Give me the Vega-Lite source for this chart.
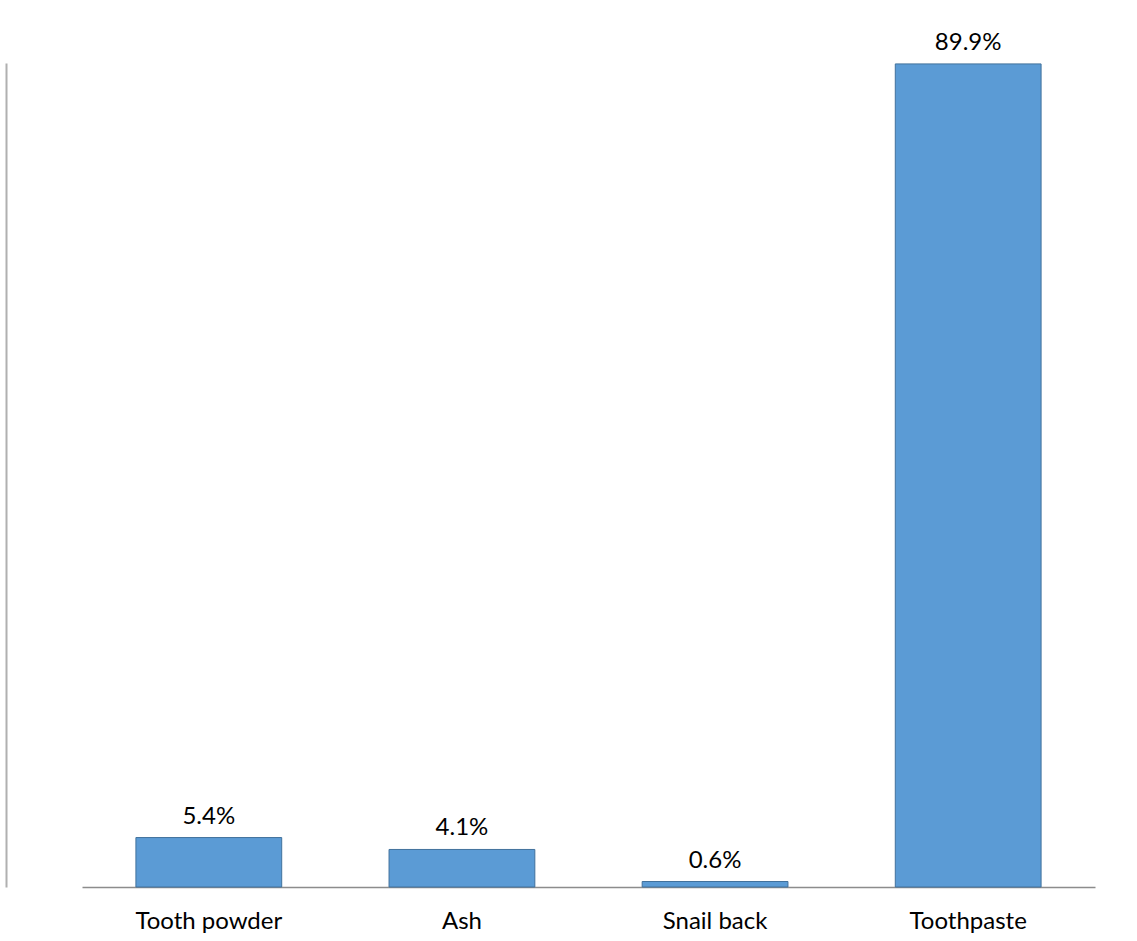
{
  "$schema": "https://vega.github.io/schema/vega-lite/v6.json",
  "autosize": "none",
  "width": 1013,
  "height": 824,
  "padding": {"left": 82, "top": 63, "right": 42, "bottom": 54},
  "background": "white",
  "config": {"view": {"stroke": null}, "font": "Lato"},
  "data": {"values": [
    {"item": "Tooth powder", "pct": 5.4, "label": "5.4%"},
    {"item": "Ash", "pct": 4.1, "label": "4.1%"},
    {"item": "Snail back", "pct": 0.6, "label": "0.6%"},
    {"item": "Toothpaste", "pct": 89.9, "label": "89.9%"}
  ]},
  "encoding": {
    "x": {"field": "item", "type": "nominal", "sort": null,
      "scale": {"paddingInner": 0.424, "paddingOuter": 0.213},
      "axis": {"title": null, "labelAngle": 0, "labelFontSize": 24, "labelColor": "#000000",
        "labelPadding": 22, "ticks": false, "domainColor": "#8c8c8c", "domainWidth": 1.5, "grid": false}},
    "y": {"field": "pct", "type": "quantitative",
      "scale": {"domain": [0, 90], "nice": false},
      "axis": {"title": null, "labels": false, "ticks": false, "grid": false, "domainColor": "#b0b0b0", "domainWidth": 2, "offset": 76}}
  },
  "layer": [
    {"mark": {"type": "bar", "color": "#5B9BD5", "stroke": "#41719C", "strokeWidth": 1}},
    {"mark": {"type": "text", "baseline": "alphabetic", "dy": -14, "fontSize": 24, "color": "#000000"},
     "encoding": {"text": {"field": "label", "type": "nominal"}}}
  ]
}
